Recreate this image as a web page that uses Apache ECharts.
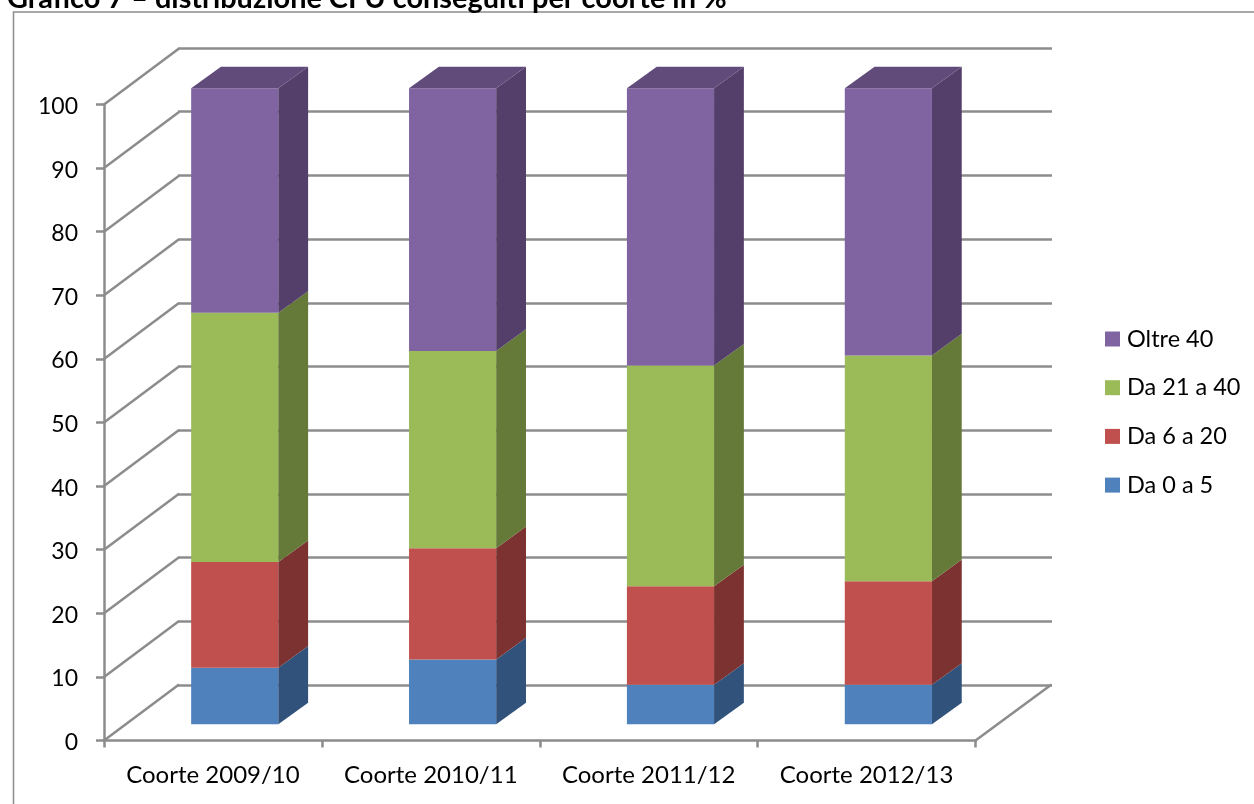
<!DOCTYPE html>
<html>
<head>
<meta charset="utf-8">
<style>html,body{margin:0;padding:0;background:#fff}#chart{width:1254px;height:804px}</style>
<script src="https://cdn.jsdelivr.net/npm/echarts@6/dist/echarts.min.js"></script>
</head>
<body>
<div id="chart"></div>
<script>
// Cohorts on the horizontal axis
const categories = ['Coorte 2009/10', 'Coorte 2010/11', 'Coorte 2011/12', 'Coorte 2012/13'];
// Share of students (%) per CFU band, one value per cohort
const da0a5   = [8.9, 10.2, 6.2, 6.2];
const da6a20  = [16.6, 17.5, 15.5, 16.3];
const da21a40 = [39.2, 31.0, 34.7, 35.5];
const oltre40 = [35.3, 41.3, 43.6, 42.0];
const yTicks  = [0, 10, 20, 30, 40, 50, 60, 70, 80, 90, 100];

const FONT = 'Lato';
const AXIS = '#8c8c8c';
const TEXT = '#000';
const LINE = 2.5;

// Pseudo-3D projection: how far each depth plane sits from the front axis plane
const WALL = { dx: 75, dy: -56 };
const BAR_FRONT = { dx: 21.8, dy: -16.2 };
const BAR_DEPTH = { dx: 29.8, dy: -21.6 };

const bands = [
  { name: 'Da 0 a 5',   values: da0a5,   front: '#4f81bd', side: '#31527b' },
  { name: 'Da 6 a 20',  values: da6a20,  front: '#c0504d', side: '#7c3230' },
  { name: 'Da 21 a 40', values: da21a40, front: '#9bbb59', side: '#657a38' },
  { name: 'Oltre 40',   values: oltre40, front: '#8064a2', side: '#533f69' }
];

// Stack the bands into [category, base, top] rows
const running = categories.map(() => 0);
bands.forEach(b => {
  b.rows = b.values.map((v, i) => {
    const base = running[i];
    running[i] = +(base + v).toFixed(2);
    return [i, base, running[i]];
  });
});

function face(points, color) {
  return { type: 'polygon', shape: { points }, style: { fill: color }, silent: true };
}

// Front face and right side of one stacked segment; the last band also gets the lid
function renderSegment(band, isTop) {
  return function (params, api) {
    const i = api.value(0);
    const low = api.coord([i, api.value(1)]);
    const high = api.coord([i, api.value(2)]);
    const w = api.size([1, 0])[0] * 0.4;
    const x0 = low[0] + BAR_FRONT.dx - w / 2;
    const x1 = x0 + w;
    const yb = low[1] + BAR_FRONT.dy;
    const yt = high[1] + BAR_FRONT.dy;
    const children = [
      face([[x0, yb], [x1, yb], [x1, yt], [x0, yt]], band.front),
      face([[x1, yb], [x1 + BAR_DEPTH.dx, yb + BAR_DEPTH.dy], [x1 + BAR_DEPTH.dx, yt + BAR_DEPTH.dy], [x1, yt]], band.side)
    ];
    if (isTop) {
      children.push(face([[x0, yt], [x1, yt], [x1 + BAR_DEPTH.dx, yt + BAR_DEPTH.dy], [x0 + BAR_DEPTH.dx, yt + BAR_DEPTH.dy]], '#614b7a'));
    }
    return { type: 'group', children };
  };
}

// Slanted lines joining the value axis to the back wall, plus the right edge of the floor
function renderSlants(params, api) {
  const v = api.value(0);
  const sys = params.coordSys;
  const p = api.coord([0, v]);
  return {
    type: 'line',
    shape: { x1: sys.x, y1: p[1], x2: sys.x + WALL.dx, y2: p[1] + WALL.dy },
    style: { stroke: AXIS, lineWidth: LINE },
    silent: true
  };
}
function renderFloorEdge(params, api) {
  const sys = params.coordSys;
  const y = api.coord([0, 0])[1];
  const x = sys.x + sys.width;
  return {
    type: 'line',
    shape: { x1: x, y1: y, x2: x + WALL.dx + 1, y2: y + WALL.dy },
    style: { stroke: AXIS, lineWidth: LINE },
    silent: true
  };
}

const chart = echarts.init(document.getElementById('chart'));
chart.setOption({
  animation: false,
  backgroundColor: '#fff',
  textStyle: { fontFamily: FONT },
  title: {
    text: 'Grafico 7 – distribuzione CFU conseguiti per coorte in %',
    left: 7,
    top: -16,
    padding: 0,
    textStyle: { fontFamily: FONT, fontWeight: 'bold', fontSize: 28.9, color: TEXT }
  },
  graphic: [{
    type: 'rect',
    silent: true,
    z: -10,
    shape: { x: 13.5, y: 12, width: 1400, height: 1000 },
    style: { fill: 'none', stroke: AXIS, lineWidth: 1.5 }
  }],
  legend: {
    orient: 'vertical',
    left: 1105,
    top: 327,
    itemWidth: 15,
    itemHeight: 15,
    itemGap: 24.7,
    icon: 'rect',
    padding: 0,
    data: ['Oltre 40', 'Da 21 a 40', 'Da 6 a 20', 'Da 0 a 5'],
    textStyle: { fontFamily: FONT, fontSize: 23.5, color: TEXT, padding: [0, 0, 0, 2] }
  },
  grid: [
    { left: 104, top: 104.5, width: 871.5, height: 636 },
    { left: 178, top: 48, width: 874, height: 637 }
  ],
  xAxis: [
    {
      gridIndex: 0,
      type: 'category',
      data: categories,
      axisLine: { lineStyle: { color: AXIS, width: LINE } },
      axisTick: { show: true, interval: 0, alignWithLabel: false, length: 7, lineStyle: { color: AXIS, width: LINE } },
      axisLabel: { interval: 0, hideOverlap: false, color: TEXT, fontFamily: FONT, fontSize: 24, margin: 23 }
    },
    { gridIndex: 1, type: 'category', data: categories, show: false }
  ],
  yAxis: [
    {
      gridIndex: 0,
      type: 'value',
      min: 0,
      max: 100,
      interval: 10,
      axisLine: { show: true, lineStyle: { color: AXIS, width: LINE } },
      axisTick: { show: true, length: 8, lineStyle: { color: AXIS, width: LINE } },
      axisLabel: { color: TEXT, fontFamily: FONT, fontSize: 23, margin: 26, verticalAlign: 'top', lineHeight: 4 },
      splitLine: { show: false }
    },
    {
      gridIndex: 1,
      type: 'value',
      min: 0,
      max: 100,
      interval: 10,
      axisLine: { show: false },
      axisTick: { show: false },
      axisLabel: { show: false },
      splitLine: { show: true, lineStyle: { color: AXIS, width: LINE } }
    }
  ],
  series: [
    {
      type: 'custom',
      name: 'pareti',
      silent: true,
      z: 1,
      renderItem: renderSlants,
      encode: { y: 0 },
      data: yTicks.map(v => [v]),
      tooltip: { show: false }
    },
    {
      type: 'custom',
      name: 'pavimento',
      silent: true,
      z: 1,
      renderItem: renderFloorEdge,
      data: [[0]]
    },
    ...bands.map((band, idx) => ({
      type: 'custom',
      name: band.name,
      z: 5,
      itemStyle: { color: band.front },
      renderItem: renderSegment(band, idx === bands.length - 1),
      encode: { x: 0, y: [1, 2] },
      data: band.rows
    }))
  ]
});
</script>
</body>
</html>
